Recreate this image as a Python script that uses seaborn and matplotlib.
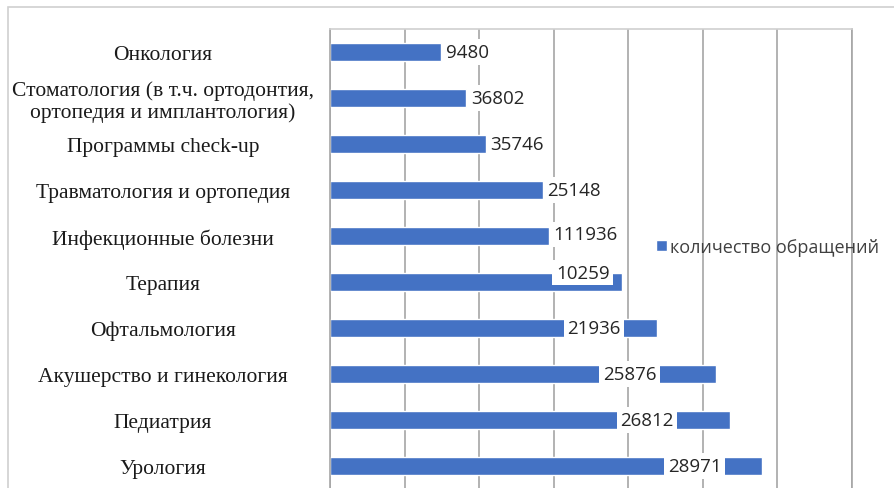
import matplotlib
matplotlib.use("Agg")
import matplotlib.pyplot as plt
import matplotlib.patches as mpatches
from matplotlib.ticker import FixedLocator, MultipleLocator
import seaborn as sns
import pandas as pd

categories = [
    "Онкология",
    "Стоматология (в т.ч. ортодонтия,\nортопедия и имплантология)",
    "Программы check-up",
    "Травматология и ортопедия",
    "Инфекционные болезни",
    "Терапия",
    "Офтальмология",
    "Акушерство и гинекология",
    "Педиатрия",
    "Урология",
]
bar_lengths = [1.49, 1.83, 2.09, 2.86, 2.94, 3.92, 4.38, 5.18, 5.36, 5.79]
value_labels = ["9480", "36802", "35746", "25148", "111936",
                "10259", "21936", "25876", "26812", "28971"]
label_x = [1.56, 1.89, 2.15, 2.91, 2.99, 3.03, 3.18, 3.66, 3.89, 4.53]
label_dy = [0, 0, 0, 0, -0.04, -0.2, 0, 0, 0, 0]
series_name = "количество обращений"

df = pd.DataFrame({"cat": categories, "val": bar_lengths})

sns.set_style("white")
plt.rcParams["font.family"] = ["DejaVu Sans"]

W, H = 894, 489
fig = plt.figure(figsize=(W / 100, H / 100), dpi=100)
ax = fig.add_axes([330 / W, -1 / H, 522 / W, 460 / H])

sns.barplot(data=df, x="val", y="cat", orient="h", color="#4472C4",
            width=0.41, saturation=1, label=series_name, ax=ax)

ax.set_xlim(0, 7)
ax.set_ylim(len(categories) - 0.5, -0.5)
ax.xaxis.set_major_locator(MultipleLocator(1))
ax.set_xticklabels([])
ax.tick_params(axis="x", length=0)
ax.grid(axis="x", color="#a6a6a6", linewidth=1.2)
ax.set_axisbelow(True)
ax.set_xlabel("")
ax.set_ylabel("")

# category labels centred at x~163px
ax.set_yticks(range(len(categories)))
ax.set_yticklabels(categories, ha="center", family="Liberation Serif",
                   fontsize=15.5, linespacing=1.1, color="#1a1a1a")
ax.tick_params(axis="y", which="major", length=0, pad=(330 - 163) * 0.72)
ax.yaxis.set_minor_locator(FixedLocator([i - 0.5 for i in range(len(categories) + 1)]))
ax.tick_params(axis="y", which="minor", length=6, width=1, color="#a6a6a6",
               direction="out")

for s in ["left", "right", "top"]:
    ax.spines[s].set_visible(True)
    ax.spines[s].set_color("#a6a6a6")
    ax.spines[s].set_linewidth(1.2)
ax.spines["top"].set_color("#d0d0d0")
ax.spines["bottom"].set_visible(False)

for i, (txt, lx, dy) in enumerate(zip(value_labels, label_x, label_dy)):
    ax.text(lx, i + dy, txt, ha="left", va="center", fontsize=13.5,
            family="Open Sans", color="#262626", zorder=4,
            bbox=dict(facecolor="white", edgecolor="none", pad=2.5))

leg = ax.legend(loc="center left", bbox_to_anchor=(656 / W, 1 - 248 / H),
                bbox_transform=fig.transFigure, frameon=False,
                borderaxespad=0, borderpad=0,
                handlelength=0.6, handleheight=0.6, handletextpad=0.15,
                prop={"family": "Open Sans", "size": 13})
for t in leg.get_texts():
    t.set_color("#404040")

# outer chart border
fig.patches.append(mpatches.Rectangle((8 / W, -0.1), 2, 1 - 8 / H + 0.1,
                                      transform=fig.transFigure, fill=False,
                                      edgecolor="#d0d0d0", linewidth=1.2))

fig.savefig("out.png", dpi=100)
